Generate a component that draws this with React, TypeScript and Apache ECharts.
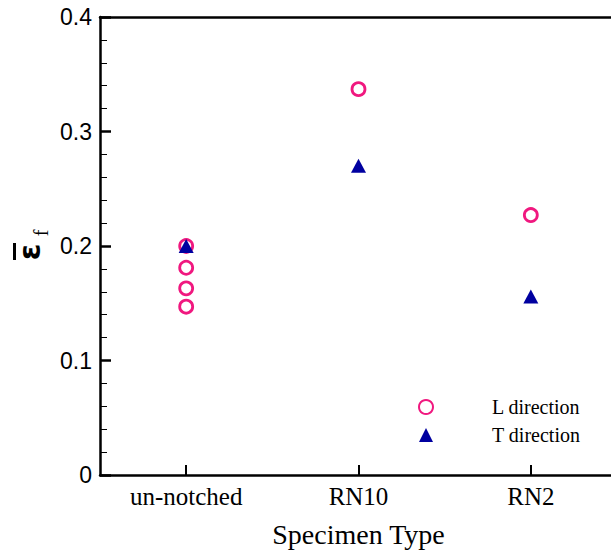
import React, { useEffect, useRef } from "react";
import * as echarts from "echarts";

const categories = ["un-notched", "RN10", "RN2"];
// L direction (open circles)
const lCategory = ["un-notched", "un-notched", "un-notched", "un-notched", "RN10", "RN2"];
const lValues = [0.2, 0.181, 0.163, 0.147, 0.337, 0.227];
// T direction (filled triangles)
const tCategory = ["un-notched", "RN10", "RN2"];
const tValues = [0.2, 0.27, 0.156];
const yTicks = [0, 0.1, 0.2, 0.3, 0.4];

const PINK = "#f0187f";
const BLUE = "#0000a0";

export default function App() {
  const ref = useRef<HTMLDivElement>(null);
  useEffect(() => {
    document.body.style.margin = "0";
    const chart = echarts.init(ref.current!, null, { renderer: "svg" });
    chart.setOption({
      animation: false,
      backgroundColor: "#fff",
      grid: {
        left: 100,
        top: 17,
        width: 517,
        height: 458,
        containLabel: false,
        outerBoundsMode: "none",
      },
      legend: {
        orient: "vertical",
        left: 413,
        top: 392,
        itemWidth: 14,
        itemHeight: 14,
        itemGap: 8,
        selectedMode: false,
        textStyle: {
          fontFamily: "Liberation Serif",
          fontSize: 20,
          color: "#000",
          padding: [0, 0, 0, 54],
        },
        data: ["L direction", "T direction"],
      },
      xAxis: [
        {
          type: "category",
          data: categories,
          boundaryGap: true,
          name: "Specimen Type",
          nameLocation: "middle",
          nameGap: 45,
          nameTextStyle: { fontFamily: "Liberation Serif", fontSize: 28, color: "#000" },
          axisLine: { lineStyle: { color: "#000", width: 2.5 } },
          axisTick: { show: true, inside: true, alignWithLabel: true, length: 10, lineStyle: { color: "#000", width: 2 } },
          axisLabel: { fontFamily: "Liberation Serif", fontSize: 25, color: "#000", margin: 9 },
          splitLine: { show: false },
        },
        {
          type: "category",
          data: categories,
          position: "top",
          axisLine: { show: true, lineStyle: { color: "#000", width: 2.5 } },
          axisTick: { show: false },
          axisLabel: { show: false },
          splitLine: { show: false },
        },
      ],
      yAxis: {
        type: "value",
        min: 0,
        max: 0.4,
        interval: 0.1,
        axisLine: { show: true, lineStyle: { color: "#000", width: 2.5 } },
        axisTick: { show: true, inside: true, length: 11, lineStyle: { color: "#000", width: 2.5 } },
        minorTick: { show: true, splitNumber: 5, length: 7, lineStyle: { color: "#000", width: 1 } },
        axisLabel: {
          fontFamily: "Liberation Sans",
          fontSize: 23,
          color: "#000",
          margin: 8,
          formatter: (v: number) => (v === 0 ? "0" : v.toFixed(1)),
          customValues: yTicks,
        },
        splitLine: { show: false },
      },
      graphic: [
        {
          type: "text",
          x: 29,
          y: 252,
          rotation: Math.PI / 2,
          style: {
            text: "ε",
            fontFamily: "DejaVu Sans",
            fontWeight: "bold",
            fontSize: 30,
            fill: "#000",
            align: "center",
            verticalAlign: "middle",
          },
        },
        {
          type: "line",
          shape: { x1: 14.5, y1: 243, x2: 14.5, y2: 260 },
          style: { stroke: "#000", lineWidth: 3 },
        },
        {
          type: "text",
          x: 41,
          y: 233,
          rotation: Math.PI / 2,
          style: {
            text: "f",
            fontFamily: "Liberation Serif",
            fontSize: 20,
            fill: "#000",
            align: "center",
            verticalAlign: "middle",
          },
        },
      ],
      series: [
        {
          name: "L direction",
          type: "scatter",
          symbol: "circle",
          symbolSize: 13,
          itemStyle: { color: "#fff", borderColor: PINK, borderWidth: 2.8, opacity: 1 },
          data: lCategory.map((c, i) => [c, lValues[i]]),
          z: 2,
        },
        {
          name: "T direction",
          type: "scatter",
          symbol: "triangle",
          symbolSize: [15, 14],
          itemStyle: { color: BLUE, opacity: 1 },
          data: tCategory.map((c, i) => [c, tValues[i]]),
          z: 3,
        },
      ],
    });
    return () => chart.dispose();
  }, []);
  return <div ref={ref} style={{ width: 611, height: 554 }} />;
}
